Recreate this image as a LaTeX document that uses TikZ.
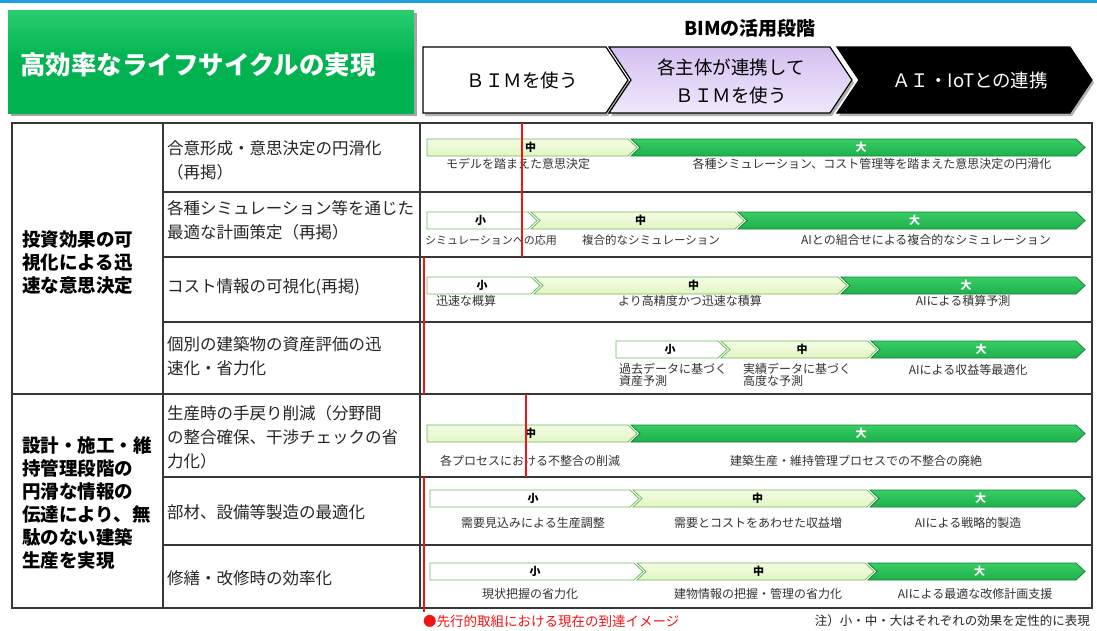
\documentclass[tikz,border=0pt]{standalone}
\usepackage{fontspec}
\setmainfont{Noto Sans CJK JP}
\usetikzlibrary{calc}
\definecolor{topblue}{RGB}{30,160,220}
\definecolor{titlegreen}{RGB}{0,178,80}
\definecolor{titlegreenL}{RGB}{40,205,110}
\definecolor{gridc}{RGB}{55,55,55}
\definecolor{segLfill}{RGB}{30,176,76}
\definecolor{segLfillT}{RGB}{55,205,100}
\definecolor{segLdraw}{RGB}{20,130,55}
\definecolor{segMfill}{RGB}{226,246,196}
\definecolor{segMfillT}{RGB}{243,252,228}
\definecolor{segdraw}{RGB}{110,185,95}
\definecolor{purpT}{RGB}{212,192,240}
\definecolor{purpB}{RGB}{240,232,252}
\definecolor{redline}{RGB}{240,20,20}
\newcommand\fs[1]{\fontsize{#1}{#1}\selectfont}
\tikzset{
  gridline/.style={draw=gridc, line width=1.5pt},
  redbar/.style={draw=redline, line width=2.2pt},
  segS/.style={draw=segdraw, line width=0.8pt, fill=white},
  segM/.style={draw=segdraw, line width=0.8pt, top color=segMfillT, bottom color=segMfill},
  segL/.style={draw=segLdraw, line width=0.8pt, top color=segLfillT, bottom color=segLfill},
  segSlab/.style={font=\fs{11}\bfseries, text=black, inner sep=0pt},
  segMlab/.style={font=\fs{11}\bfseries, text=black, inner sep=0pt},
  segLlab/.style={font=\fs{11}\bfseries, text=white, inner sep=0pt},
  barlab/.style={font=\fs{12}, text=black!80, inner sep=0pt, align=left},
  itemtxt/.style={font=\fontsize{16.5}{24}\selectfont, text=black!85, anchor=west, align=left, inner sep=0pt},
  cattxt/.style={font=\fontsize{18.5}{23}\selectfont\bfseries, text=black, anchor=west, align=left, inner sep=0pt},
  phase/.style={draw=black, line width=1.2pt},
  phasetxt/.style={font=\fontsize{18.5}{28}\selectfont, align=center, inner sep=0pt},
}
% #1 style, #2 x0, #3 x1, #4 ytop, #5 notch 0/1, #6 label, #7 name
\newcommand\bseg[7]{%
  \draw[#1] (#2,#4) -- (#3,#4) -- ({#3+9},{#4+8.5}) -- (#3,{#4+17}) -- (#2,{#4+17}) -- ({#2+9*#5},{#4+8.5}) -- cycle;
  \node[#1lab] (#7) at ({(#2+#3)/2+4.5*#5+3},{#4+8.5}) {#6};
}
\begin{document}
\begin{tikzpicture}[x=1pt,y=-1pt]
\useasboundingbox (0,0) rectangle (1097,630);
\fill[white] (0,0) rectangle (1097,630);
% top line
\draw[topblue, line width=3pt] (0,1.5) -- (1097,1.5);

% title box
\fill[black!35] (11,13) rectangle (417,116);
\shade[top color=titlegreenL, bottom color=titlegreen, middle color=titlegreen] (8,10) rectangle (414,113);
\node[font=\fs{25.5}\bfseries, text=white, anchor=west, inner sep=0pt] (title) at (20,65) {高効率なライフサイクルの実現};

% header
\node[font=\fs{19}\bfseries, inner sep=0pt] (phasehead) at (750,28) {BIMの活用段階};
\fill[black!30] (425,50) -- (608,50) -- (630,83) -- (608,116) -- (425,116) -- cycle;
\fill[black!30] (611,50) -- (832,50) -- (854,83) -- (832,116) -- (611,116) -- (633,83) -- cycle;
\fill[black!30] (839,50) -- (1072,50) -- (1094,83) -- (1072,116) -- (839,116) -- (861,83) -- cycle;
\draw[phase, fill=white] (423,47) -- (606,47) -- (628,80) -- (606,113) -- (423,113) -- cycle;
\draw[phase, top color=purpT, bottom color=purpB] (609,47) -- (830,47) -- (852,80) -- (830,113) -- (609,113) -- (631,80) -- cycle;
\draw[phase, fill=black] (837,47) -- (1070,47) -- (1092,80) -- (1070,113) -- (837,113) -- (859,80) -- cycle;
\node[phasetxt] (ph1) at (522,80) {ＢＩＭを使う};
\node[phasetxt] (ph2) at (731,81) {各主体が連携して\\ＢＩＭを使う};
\node[phasetxt, text=white] (ph3) at (970,80) {ＡＩ・IoTとの連携};

% table grid
\draw[gridline, line width=1.8pt] (12,123) rectangle (1092,608);
\draw[gridline] (163,123) -- (163,608);
\draw[gridline] (420,123) -- (420,608);
\draw[gridline] (12,394) -- (1092,394);
\foreach \yy in {192,257,322,477,545} \draw[gridline] (163,\yy) -- (1092,\yy);

% categories
\node[cattxt] (cat1) at (22,263) {投資効果の可\\視化による迅\\速な意思決定};
\node[cattxt] (cat2) at (22,503) {設計・施工・維\\持管理段階の\\円滑な情報の\\伝達により、無\\駄のない建築\\生産を実現};

% items
\node[itemtxt] (it1) at (167,160) {合意形成・意思決定の円滑化\\（再掲）};
\node[itemtxt] (it2) at (167,220) {各種シミュレーション等を通じた\\最適な計画策定（再掲）};
\node[itemtxt] (it3) at (167,287) {コスト情報の可視化(再掲)};
\node[itemtxt] (it4) at (167,356) {個別の建築物の資産評価の迅\\速化・省力化};
\node[itemtxt] (it5) at (167,437) {生産時の手戻り削減（分野間\\の整合確保、干渉チェックの省\\力化）};
\node[itemtxt] (it6) at (167,512) {部材、設備等製造の最適化};
\node[itemtxt] (it7) at (167,578) {修繕・改修時の効率化};

% row 1
\bseg{segM}{427}{628}{139}{0}{中}{r1m}
\bseg{segL}{631}{1076}{139}{1}{大}{r1l}
\node[barlab] (r1a) at (518,164) {モデルを踏まえた意思決定};
\node[barlab] (r1b) at (872,164) {各種シミュレーション、コスト管理等を踏まえた意思決定の円滑化};
% row 2
\bseg{segS}{427}{528}{212}{0}{小}{r2s}
\bseg{segM}{531}{735}{212}{1}{中}{r2m}
\bseg{segL}{738}{1076}{212}{1}{大}{r2l}
\node[barlab, font=\fs{11}] (r2a) at (491,240) {シミュレーションへの応用};
\node[barlab, font=\fs{11.5}] (r2b) at (651,240) {複合的なシミュレーション};
\node[barlab] (r2c) at (926,240) {AIとの組合せによる複合的なシミュレーション};
% row 3
\bseg{segS}{427}{531}{277}{0}{小}{r3s}
\bseg{segM}{534}{838}{277}{1}{中}{r3m}
\bseg{segL}{841}{1076}{277}{1}{大}{r3l}
\node[barlab] (r3a) at (466,301) {迅速な概算};
\node[barlab] (r3b) at (690,301) {より高精度かつ迅速な積算};
\node[barlab] (r3c) at (963,301) {AIによる積算予測};
% row 4
\bseg{segS}{616}{718}{341}{0}{小}{r4s}
\bseg{segM}{721}{868}{341}{1}{中}{r4m}
\bseg{segL}{871}{1076}{341}{1}{大}{r4l}
\node[barlab, anchor=north west] (r4a) at (619,363) {過去データに基づく\\資産予測};
\node[barlab, anchor=north west] (r4b) at (743,363) {実績データに基づく\\高度な予測};
\node[barlab] (r4c) at (968,370) {AIによる収益等最適化};
% row 5
\bseg{segM}{427}{628}{425}{0}{中}{r5m}
\bseg{segL}{631}{1076}{425}{1}{大}{r5l}
\node[barlab] (r5a) at (530,461) {各プロセスにおける不整合の削減};
\node[barlab] (r5b) at (856,461) {建築生産・維持管理プロセスでの不整合の廃絶};
% row 6
\bseg{segS}{430}{630}{490}{0}{小}{r6s}
\bseg{segM}{633}{867}{490}{1}{中}{r6m}
\bseg{segL}{870}{1076}{490}{1}{大}{r6l}
\node[barlab] (r6a) at (533,523) {需要見込みによる生産調整};
\node[barlab] (r6b) at (758,523) {需要とコストをあわせた収益増};
\node[barlab] (r6c) at (968,523) {AIによる戦略的製造};
% row 7
\bseg{segS}{430}{634}{563}{0}{小}{r7s}
\bseg{segM}{637}{865}{563}{1}{中}{r7m}
\bseg{segL}{868}{1076}{563}{1}{大}{r7l}
\node[barlab] (r7a) at (530,594) {現状把握の省力化};
\node[barlab] (r7b) at (758,594) {建物情報の把握・管理の省力化};
\node[barlab] (r7c) at (975,594) {AIによる最適な改修計画支援};

% red lines
\coordinate (ra1) at (522,123); \coordinate (ra2) at (522,257);
\coordinate (rb1) at (424,257); \coordinate (rb2) at (424,394);
\coordinate (rc1) at (526,394); \coordinate (rc2) at (526,477);
\coordinate (rd1) at (424,477); \coordinate (rd2) at (424,612);
\draw[redbar] (ra1) -- (ra2);
\draw[redbar] (rb1) -- (rb2);
\draw[redbar] (rc1) -- (rc2);
\draw[redbar] (rd1) -- (rd2);

% legend
\node[font=\fs{13.5}, text=redline, anchor=west, inner sep=0pt] (leg1) at (423,621) {●先行的取組における現在の到達イメージ};
\node[font=\fs{12.5}, text=black!85, anchor=east, inner sep=0pt] (leg2) at (1090,621) {注）小・中・大はそれぞれの効果を定性的に表現};
\end{tikzpicture}
\end{document}
